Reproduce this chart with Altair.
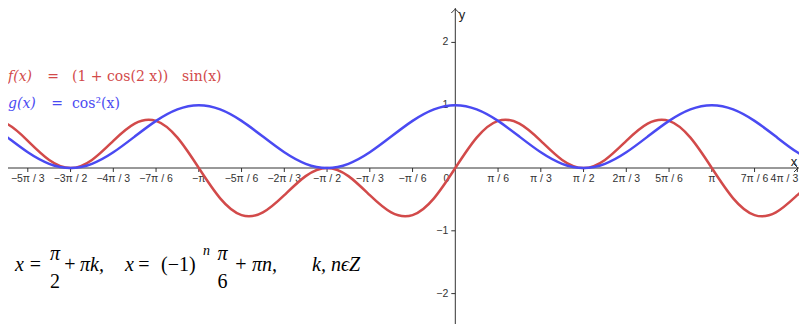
import math
import altair as alt
import pandas as pd

# ---- data ----
# sample positions along x, in units of pi/12
k_steps = list(range(-22, 18))
# f(x) = (1 + cos(2x)) sin(x) read at those positions
f_vals = [0.75, 0.707, 0.433, 0.129, 0.0, 0.129, 0.433, 0.707, 0.75, 0.483,
          0.0, -0.483, -0.75, -0.707, -0.433, -0.129, 0.0, -0.129, -0.433, -0.707,
          -0.75, -0.483, 0.0, 0.483, 0.75, 0.707, 0.433, 0.129, 0.0, 0.129,
          0.433, 0.707, 0.75, 0.483, 0.0, -0.483, -0.75, -0.707, -0.433, -0.129]
# g(x) = cos^2(x) read at those positions
g_vals = [0.75, 0.5, 0.25, 0.067, 0.0, 0.067, 0.25, 0.5, 0.75, 0.933,
          1.0, 0.933, 0.75, 0.5, 0.25, 0.067, 0.0, 0.067, 0.25, 0.5,
          0.75, 0.933, 1.0, 0.933, 0.75, 0.5, 0.25, 0.067, 0.0, 0.067,
          0.25, 0.5, 0.75, 0.933, 1.0, 0.933, 0.75, 0.5, 0.25, 0.067]

# x ticks, in units of pi/6
x_tick_sixths = [-10, -9, -8, -7, -6, -5, -4, -3, -2, -1, 1, 2, 3, 4, 5, 6, 7]
x_tick_labels = ["−5π / 3", "−3π / 2", "−4π / 3", "−7π / 6", "−π", "−5π / 6",
                 "−2π / 3", "−π / 2", "−π / 3", "−π / 6", "π / 6", "π / 3",
                 "π / 2", "2π / 3", "5π / 6", "π", "7π / 6"]
last_tick_sixths = 8
last_tick_label = "4π / 3"
y_ticks = [-2, -1, 1, 2]
y_tick_labels = ["−2", "−1", "1", "2"]

# ---- layout / style ----
W, H = 791, 316
X_DOMAIN = [-5.4786, 4.2096]
Y_DOMAIN = [-2.484, 2.548]
RED = "#d24a4a"
BLUE = "#4a4af2"
AX = "#333333"

xs = alt.Scale(domain=X_DOMAIN, nice=False, zero=False)
ys = alt.Scale(domain=Y_DOMAIN, nice=False, zero=False)


def px_x(p):
    """plot-pixel -> data x (for annotation placement)"""
    return X_DOMAIN[0] + p / W * (X_DOMAIN[1] - X_DOMAIN[0])


def px_y(p):
    return Y_DOMAIN[1] - p / H * (Y_DOMAIN[1] - Y_DOMAIN[0])


XU = (X_DOMAIN[1] - X_DOMAIN[0]) / W   # data units per pixel
YU = (Y_DOMAIN[1] - Y_DOMAIN[0]) / H

n = len(k_steps)
curves = pd.DataFrame({
    "x": [k * math.pi / 12 for k in k_steps] * 2,
    "y": f_vals + g_vals,
    "fn": ["f"] * n + ["g"] * n,
})

X = lambda f: alt.X(f, scale=xs, axis=None)
Y = lambda f: alt.Y(f, scale=ys, axis=None)

lines = alt.Chart(curves).mark_line(interpolate="natural", strokeWidth=2.5, clip=True).encode(
    x=X("x:Q"), y=Y("y:Q"),
    color=alt.Color("fn:N", scale=alt.Scale(domain=["f", "g"], range=[RED, BLUE]), legend=None),
)

axes_df = pd.DataFrame({
    "x": [X_DOMAIN[0], 0.0], "x2": [X_DOMAIN[1], 0.0],
    "y": [0.0, Y_DOMAIN[0]], "y2": [0.0, Y_DOMAIN[1]],
})
axes = alt.Chart(axes_df).mark_rule(color=AX, strokeWidth=1).encode(
    x=X("x:Q"), x2="x2", y=Y("y:Q"), y2="y2")

all_sixths = x_tick_sixths + [last_tick_sixths]
xt_marks = pd.DataFrame({
    "x": [s * math.pi / 6 for s in all_sixths],
    "y": [0.0] * len(all_sixths),
    "y2": [-4 * YU] * len(all_sixths),
})
x_tick_marks = alt.Chart(xt_marks).mark_rule(color=AX, strokeWidth=1).encode(
    x=X("x:Q"), y=Y("y:Q"), y2="y2")

xt = pd.DataFrame({
    "x": [s * math.pi / 6 for s in x_tick_sixths],
    "y": [0.0] * len(x_tick_sixths),
    "label": x_tick_labels,
})
x_tick_text = alt.Chart(xt).mark_text(font="Liberation Sans", fontSize=10.5, color="#333333",
                                      baseline="middle", dy=11).encode(
    x=X("x:Q"), y=Y("y:Q"), text="label:N")
xt_last = pd.DataFrame({"x": [last_tick_sixths * math.pi / 6], "y": [0.0], "label": [last_tick_label]})
x_tick_text_last = alt.Chart(xt_last).mark_text(font="Liberation Sans", fontSize=10.5, color="#333333",
                                                baseline="middle", align="right", dx=1, dy=11).encode(
    x=X("x:Q"), y=Y("y:Q"), text="label:N")

yt = pd.DataFrame({"x": [0.0] * len(y_ticks), "x2": [-4 * XU] * len(y_ticks),
                   "y": y_ticks, "label": y_tick_labels})
y_tick_marks = alt.Chart(yt).mark_rule(color=AX, strokeWidth=1).encode(
    x=X("x:Q"), x2="x2", y=Y("y:Q"))
y_tick_text = alt.Chart(yt).mark_text(font="Liberation Sans", fontSize=10.5, color="#333333",
                                      align="right", baseline="middle", dx=-7).encode(
    x=X("x:Q"), y=Y("y:Q"), text="label:N")

origin = pd.DataFrame({"x": [0.0], "y": [0.0], "label": ["0"]})
origin_text = alt.Chart(origin).mark_text(font="Liberation Sans", fontSize=10.5, color="#333333",
                                          baseline="middle", dx=-9, dy=11).encode(
    x=X("x:Q"), y=Y("y:Q"), text="label:N")

# open arrow heads at the axis ends
arrows_df = pd.DataFrame({
    "x": [-4 * XU, 0.0, 4 * XU,
          px_x(786), px_x(790), px_x(786)],
    "y": [px_y(5), px_y(1), px_y(5),
          4 * YU, 0.0, -4 * YU],
    "a": ["y", "y", "y", "x", "x", "x"],
    "o": [0, 1, 2, 0, 1, 2],
})
arrows = alt.Chart(arrows_df).mark_line(color=AX, strokeWidth=1).encode(
    x=X("x:Q"), y=Y("y:Q"), detail="a:N", order="o:Q")


def label(s, x, y, size=20, style="normal", align="left", baseline="alphabetic",
          color="black", font="Liberation Serif"):
    df = pd.DataFrame({"x": [px_x(x)], "y": [px_y(y)], "t": [s]})
    return alt.Chart(df).mark_text(fontSize=size, fontStyle=style, align=align,
                                   baseline=baseline, color=color, font=font).encode(
        x=X("x:Q"), y=Y("y:Q"), text="t:N")


DS = "DejaVu Serif"
annotations = [
    label("x", 786, 154, size=13, align="center", baseline="middle", font="Liberation Sans", color="#222222"),
    label("y", 454, 7, size=13, align="center", baseline="middle", font="Liberation Sans", color="#222222"),
    # f(x) = (1 + cos(2 x)) sin(x)
    label("f(x)", 0, 69, size=14, style="italic", baseline="middle", color=RED, font=DS),
    label("=", 45, 69, size=14, align="center", baseline="middle", color=RED, font=DS),
    label("(1 + cos(2 x))", 64, 69, size=14, baseline="middle", color=RED, font=DS),
    label("sin(x)", 174, 69, size=14, baseline="middle", color=RED, font=DS),
    # g(x) = cos^2(x)
    label("g(x)", 0, 96, size=14, style="italic", baseline="middle", color=BLUE, font=DS),
    label("=", 49, 96, size=14, align="center", baseline="middle", color=BLUE, font=DS),
    label("cos²(x)", 64, 96, size=14, baseline="middle", color=BLUE, font=DS),
    # x = pi/2 + pi k,  x = (-1)^n pi/6 + pi n,   k, n in Z
    label("x", 7, 263, style="italic"),
    label("=", 27.5, 263, align="center"),
    label("π", 47, 252, style="italic", align="center"),
    label("2", 47, 280, align="center"),
    label("+", 62, 263, align="center"),
    label("πk,", 72, 263, style="italic"),
    label("x", 117, 263, style="italic"),
    label("=", 136, 263, align="center"),
    label("(−1)", 153, 263),
    label("n", 195, 247, size=14, style="italic"),
    label("π", 214.5, 252, style="italic", align="center"),
    label("6", 214.5, 280, align="center"),
    label("+", 233, 263, align="center"),
    label("πn,", 244, 263, style="italic"),
    label("k, nϵZ", 304, 263, style="italic"),
]

chart = alt.layer(
    axes, x_tick_marks, y_tick_marks, x_tick_text, x_tick_text_last, y_tick_text, origin_text,
    arrows, lines, *annotations
).properties(
    width=W, height=H, autosize=alt.AutoSizeParams(type="none"), padding=0,
    background="white",
).configure_view(stroke=None)

chart.save("out.html", embed_options={"renderer": "svg", "actions": False})
